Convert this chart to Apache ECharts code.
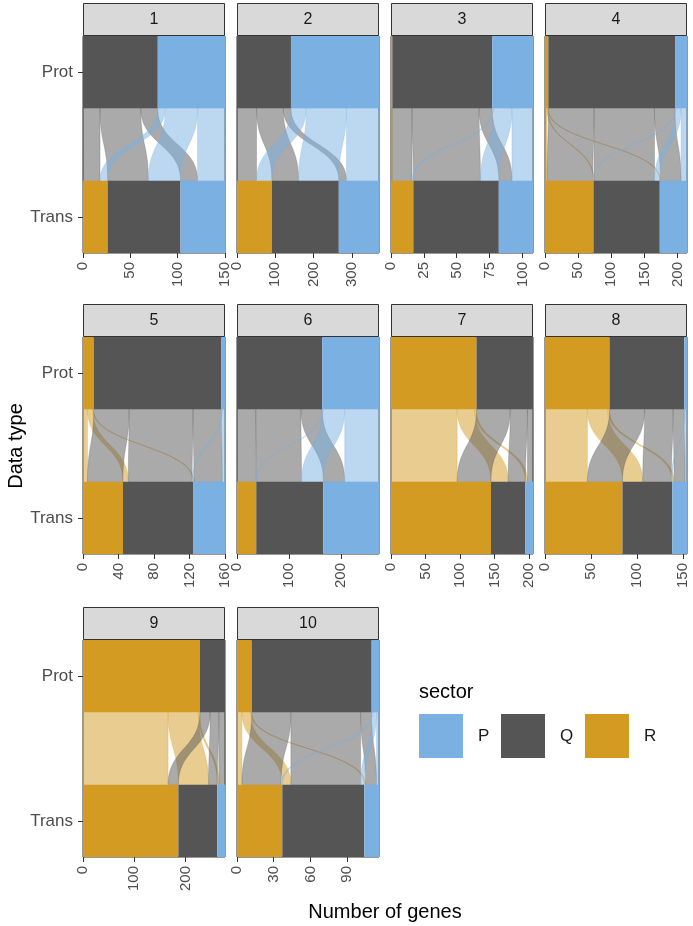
<!DOCTYPE html>
<html><head><meta charset="utf-8">
<script src="https://cdn.jsdelivr.net/npm/echarts@6/dist/echarts.min.js"></script>
<style>html,body{margin:0;padding:0;background:#fff}#c{width:693px;height:926px}</style>
</head><body><div id="c"></div>
<script>
// ---------- data ----------
const panelNames = ['1','2','3','4','5','6','7','8','9','10'];
const sectorOrder = ['R','Q','P'];          // stacking order, left to right
const legendOrder = ['P','Q','R'];
const dataTypes = ['Prot','flow','Trans'];
// flows: rows = Prot sector (R,Q,P), columns = Trans sector (R,Q,P), number of genes
const flows1  = [[0,0,0],[18,43,18],[8,34,29]];
const flows2  = [[0,0,0],[51,70,20],[40,105,85]];
const flows3  = [[1,0,0],[15,51,10],[1,14,16]];
const flows4  = [[3,1,1],[69,91,31],[1,8,9]];
const flows5  = [[5,6,1],[40,72,32],[0,1,3]];
const flows6  = [[0,0,0],[36,87,41],[1,42,66]];
const flows7  = [[96,25,3],[49,25,8],[0,0,0]];
const flows8  = [[46,22,2],[38,31,12],[0,1,2]];
const flows9  = [[166,59,3],[20,17,12],[0,0,0]];
const flows10 = [[4,7,1],[32,57,9],[1,3,2]];
const ticks1  = [0,50,100,150];
const ticks2  = [0,100,200,300];
const ticks3  = [0,25,50,75,100];
const ticks4  = [0,50,100,150,200];
const ticks5  = [0,40,80,120,160];
const ticks6  = [0,100,200];
const ticks7  = [0,50,100,150,200];
const ticks8  = [0,50,100,150];
const ticks9  = [0,100,200];
const ticks10 = [0,30,60,90];

const allFlows = [flows1,flows2,flows3,flows4,flows5,flows6,flows7,flows8,flows9,flows10];
const allTicks = [ticks1,ticks2,ticks3,ticks4,ticks5,ticks6,ticks7,ticks8,ticks9,ticks10];

// ---------- styling / layout ----------
const colors = {P:'#7AB0E2', Q:'#555555', R:'#D49B22'};
const rgba = {P:'rgba(122,176,226,0.5)', Q:'rgba(85,85,85,0.5)', R:'rgba(212,155,34,0.5)'};
const FONT = 'Liberation Sans, Arial, Helvetica, sans-serif';
const colLeft = [83, 237, 391, 545];
const rowTop = [36, 337, 640];
const PW = 142, PH = 217, STRIP = 33;

const grids = [], xAxes = [], yAxes = [], series = [], graphics = [];

allFlows.forEach((F, k) => {
  const col = k % 4, row = Math.floor(k / 4);
  const left = colLeft[col], top = rowTop[row];
  const protVals = F.map(r => r[0] + r[1] + r[2]);
  const transVals = [0,1,2].map(j => F[0][j] + F[1][j] + F[2][j]);
  const total = protVals.reduce((a, b) => a + b, 0);
  const ticks = allTicks[k];

  grids.push({left: left, top: top, width: PW, height: PH, show: true,
    borderColor: '#333333', borderWidth: 1, backgroundColor: '#fff', containLabel: false});
  xAxes.push({type: 'value', gridIndex: k, min: 0, max: total,
    axisLine: {show: false}, splitLine: {show: false},
    axisTick: {show: true, length: 5, lineStyle: {color: '#333333'}, customValues: ticks},
    axisLabel: {rotate: 90, customValues: ticks, fontSize: 15, color: '#4D4D4D', margin: 9, fontFamily: FONT,
      formatter: v => ticks.indexOf(v) >= 0 ? String(v) : ''}
  });
  yAxes.push({type: 'category', gridIndex: k, data: dataTypes, inverse: true, boundaryGap: true,
    axisLine: {show: false}, splitLine: {show: false},
    axisTick: {show: col === 0, alignWithLabel: true, length: 5, lineStyle: {color: '#333333'}, interval: i => i !== 1},
    axisLabel: {show: col === 0, interval: i => i !== 1, fontSize: 17, color: '#4D4D4D', margin: 10, fontFamily: FONT}
  });
  sectorOrder.forEach((s, i) => {
    series.push({type: 'bar', name: s, xAxisIndex: k, yAxisIndex: k, stack: 'st' + k,
      barWidth: '100%', silent: true, itemStyle: {color: colors[s]},
      data: [protVals[i], '-', transVals[i]]});
  });
  // flow items: [topStart, yCat, topEnd, botStart, botEnd, srcIndex]
  const items = [];
  const protStart = [0, protVals[0], protVals[0] + protVals[1]];
  const transStart = [0, transVals[0], transVals[0] + transVals[1]];
  for (let i = 0; i < 3; i++) {
    for (let j = 0; j < 3; j++) {
      const v = F[i][j];
      if (!v) continue;
      let ts = protStart[i]; for (let jj = 0; jj < j; jj++) ts += F[i][jj];
      let bs = transStart[j]; for (let ii = 0; ii < i; ii++) bs += F[ii][j];
      items.push([ts, 1, ts + v, bs, bs + v, i]);
    }
  }
  series.push({type: 'custom', name: 'flows' + k, xAxisIndex: k, yAxisIndex: k, silent: true,
    encode: {x: [0, 2, 3, 4], y: 1}, data: items,
    renderItem: (params, api) => {
      const c = api.coord([api.value(0), 1]);
      const h = api.size([0, 1])[1];
      const yT = c[1] - h / 2, yB = c[1] + h / 2, yM = c[1];
      const a0 = c[0];
      const a1 = api.coord([api.value(2), 1])[0];
      const b0 = api.coord([api.value(3), 1])[0];
      const b1 = api.coord([api.value(4), 1])[0];
      const N = 40, pts = [];
      const bez = (xa, xb, t) => {
        const u = 1 - t;
        return [u*u*u*xa + 3*u*u*t*xa + 3*u*t*t*xb + t*t*t*xb,
                u*u*u*yT + 3*u*u*t*yM + 3*u*t*t*yM + t*t*t*yB];
      };
      for (let n = 0; n <= N; n++) pts.push(bez(a0, b0, n / N));
      for (let n = N; n >= 0; n--) pts.push(bez(a1, b1, n / N));
      const src = sectorOrder[api.value(5)];
      return {type: 'polygon', shape: {points: pts},
        style: {fill: rgba[src], stroke: rgba[src], lineWidth: 0.5}};
    }
  });
  // facet strip
  graphics.push({type: 'rect', silent: true, shape: {x: left + 0.5, y: top - STRIP + 0.5, width: PW - 1, height: STRIP - 1},
    style: {fill: '#D9D9D9', stroke: '#333333', lineWidth: 1}});
  graphics.push({type: 'text', silent: true, x: left + PW / 2, y: top - STRIP / 2,
    style: {text: panelNames[k], fontSize: 16, fontFamily: FONT, fill: '#1A1A1A', align: 'center', verticalAlign: 'middle'}});
});

graphics.push({type: 'text', silent: true, x: 16, y: 446, rotation: Math.PI / 2,
  style: {text: 'Data type', fontSize: 20, fontFamily: FONT, fill: '#000', align: 'center', verticalAlign: 'middle'}});
graphics.push({type: 'text', silent: true, x: 385, y: 912,
  style: {text: 'Number of genes', fontSize: 20, fontFamily: FONT, fill: '#000', align: 'center', verticalAlign: 'middle'}});
graphics.push({type: 'text', silent: true, x: 419, y: 692,
  style: {text: 'sector', fontSize: 20, fontFamily: FONT, fill: '#000', align: 'left', verticalAlign: 'middle'}});

const legendLefts = [419, 501, 585];
const legends = legendOrder.map((s, i) => ({
  data: [s], left: legendLefts[i], top: 714, itemWidth: 44, itemHeight: 44, padding: 0,
  icon: 'rect', selectedMode: false, itemGap: 0,
  textStyle: {fontSize: 17, color: '#1A1A1A', fontFamily: FONT, padding: [0, 0, 0, 10]}
}));

const chart = echarts.init(document.getElementById('c'), null, {renderer: 'canvas'});
chart.setOption({
  animation: false,
  backgroundColor: '#fff',
  textStyle: {fontFamily: FONT},
  grid: grids, xAxis: xAxes, yAxis: yAxes, series: series,
  legend: legends, graphic: graphics
});
</script></body></html>
